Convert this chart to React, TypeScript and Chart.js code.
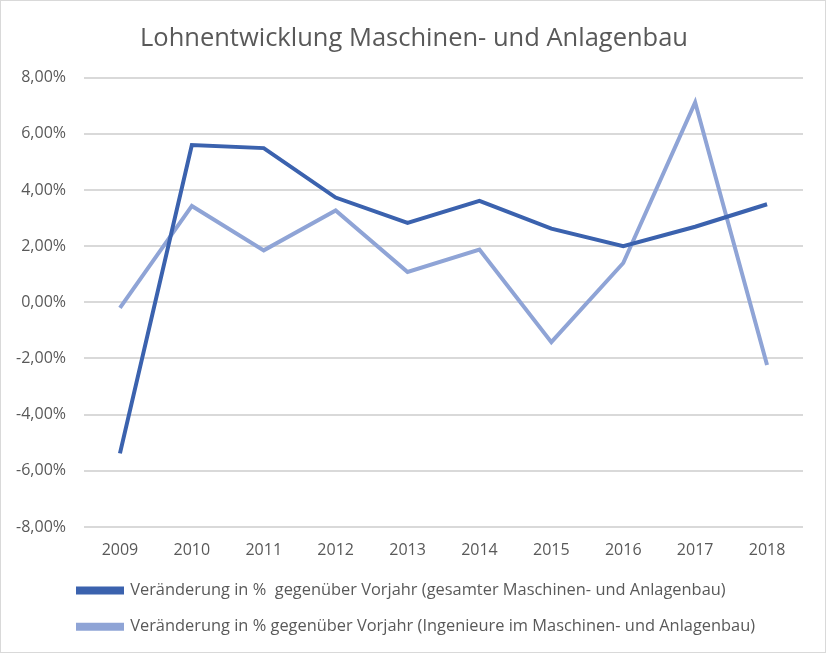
import { useEffect, useRef } from 'react';
import { Chart, registerables } from 'chart.js';
Chart.register(...registerables);

const YEARS = ['2009', '2010', '2011', '2012', '2013', '2014', '2015', '2016', '2017', '2018'];
const GESAMT = [-5.38, 5.6, 5.49, 3.73, 2.83, 3.61, 2.62, 2.0, 2.69, 3.49];
const INGENIEURE = [-0.2, 3.43, 1.85, 3.27, 1.08, 1.88, -1.42, 1.4, 7.12, -2.23];
const LABELS = [
  'Veränderung in %  gegenüber Vorjahr (gesamter Maschinen- und Anlagenbau)',
  'Veränderung in % gegenüber Vorjahr (Ingenieure im Maschinen- und Anlagenbau)',
];

const FONT = "'Open Sans', sans-serif";
const TEXT = '#595959';
const GRID = '#D9D9D9';
const DARK = '#3B62AE';
const LIGHT = '#8FA4D6';

const pct = (v: number) => v.toFixed(2).replace('.', ',') + '%';

// nudge title and legend like in the Excel original
const shiftBoxes = {
  id: 'shiftBoxes',
  afterLayout(chart: any) {
    const lg = chart.legend;
    if (lg) { lg.left += 49; lg.right += 49; lg.top -= 4; lg.bottom -= 4; }
    const tb = chart.titleBlock;
    if (tb) { tb.left += 8; tb.right += 8; }
  },
};

export default function App() {
  const canvasRef = useRef<HTMLCanvasElement>(null);

  useEffect(() => {
    document.body.style.margin = '0';
    if (!canvasRef.current) return;
    const chart = new Chart(canvasRef.current, {
      type: 'line',
      data: {
        labels: YEARS,
        datasets: [
          { label: LABELS[0], data: GESAMT, borderColor: DARK, backgroundColor: DARK, borderWidth: 4, pointRadius: 0, tension: 0 },
          { label: LABELS[1], data: INGENIEURE, borderColor: LIGHT, backgroundColor: LIGHT, borderWidth: 4, pointRadius: 0, tension: 0 },
        ],
      },
      plugins: [shiftBoxes],
      options: {
        animation: false,
        responsive: true,
        maintainAspectRatio: false,
        layout: { padding: { left: 8, right: 22, top: 0, bottom: 3 } },
        plugins: {
          title: {
            display: true,
            text: 'Lohnentwicklung Maschinen- und Anlagenbau',
            color: TEXT,
            font: { family: FONT, size: 25.5, weight: 'normal' },
            padding: { top: 22, bottom: 24 },
          },
          legend: {
            position: 'bottom',
            align: 'start',
            labels: {
              color: TEXT,
              font: { family: FONT, size: 16.4 },
              boxWidth: 44,
              boxHeight: 4,
              padding: 20,
            },
          },
          tooltip: { enabled: false },
        },
        scales: {
          x: {
            offset: true,
            grid: { display: false },
            border: { display: false },
            ticks: { color: TEXT, font: { family: FONT, size: 16 }, padding: 6 },
          },
          y: {
            min: -8,
            max: 8,
            ticks: { stepSize: 2, color: TEXT, font: { family: FONT, size: 16 }, padding: 18, callback: (v) => pct(Number(v)) },
            grid: { color: GRID, lineWidth: 2, drawTicks: false },
            border: { display: false },
            afterFit: (s) => { s.width = 75; },
          },
        },
      },
    });
    return () => chart.destroy();
  }, []);

  return (
    <div style={{ position: 'relative', width: 826, height: 653, boxSizing: 'border-box', border: '1px solid #D9D9D9' }}>
      <canvas ref={canvasRef} />
    </div>
  );
}
